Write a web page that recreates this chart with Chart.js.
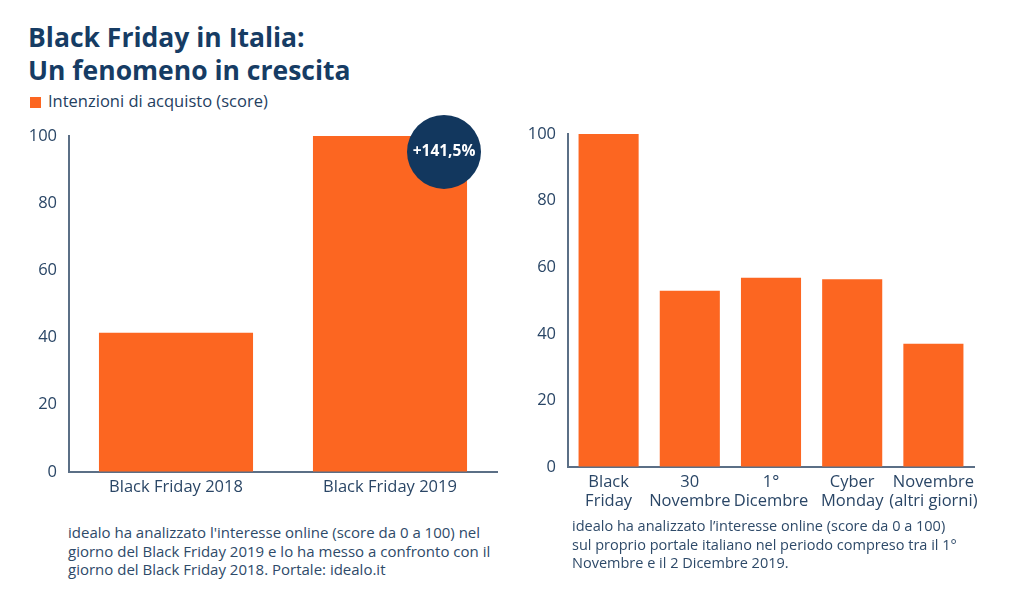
<!DOCTYPE html>
<html>
<head>
<meta charset="utf-8">
<script src="https://cdn.jsdelivr.net/npm/chart.js@4"></script>
<style>
  body { margin: 0; width: 1024px; height: 590px; background: #fff; position: relative; overflow: hidden; font-family: "Open Sans", sans-serif; }
  .title { position: absolute; left: 28px; top: 21px; font-size: 26.5px; line-height: 33px; font-weight: 700; color: #163c64; }
  .legend { position: absolute; left: 30px; top: 90px; font-size: 16.5px; color: #24405f; line-height: 22px; }
  .legend span { display: inline-block; width: 11px; height: 11px; background: #fc6621; margin-right: 7px; vertical-align: -1px; }
  .note { position: absolute; font-size: 15px; line-height: 18.5px; color: #2e4a69; }
  canvas { position: absolute; }
</style>
</head>
<body>
<div class="title">Black Friday in Italia:<br>Un fenomeno in crescita</div>
<div class="legend"><span></span>Intenzioni di acquisto (score)</div>
<canvas id="leftChart" style="left:10px; top:114px;" width="500" height="386"></canvas>
<canvas id="rightChart" style="left:520px; top:110px;" width="480" height="410"></canvas>
<div class="note" style="left:68px; top:523px;">idealo ha analizzato l'interesse online (score da 0 a 100) nel<br>giorno del Black Friday 2019 e lo ha messo a confronto con il<br>giorno del Black Friday 2018. Portale: idealo.it</div>
<div class="note" style="left:572px; top:517px; font-size:14.5px;">idealo ha analizzato l’interesse online (score da 0 a 100)<br>sul proprio portale italiano nel periodo compreso tra il 1°<br>Novembre e il 2 Dicembre 2019.</div>
<script>
const yearLabels = ["Black Friday 2018", "Black Friday 2019"];
const yearScores = [41.4, 100];
const growthLabel = "+141,5%";

const periodLabels = [["Black", "Friday"], ["30", "Novembre"], ["1°", "Dicembre"], ["Cyber", "Monday"], ["Novembre", "(altri giorni)"]];
const periodScores = [100, 52.9, 56.8, 56.4, 37];

const orange = "#fc6621";
const navy = "#12375e";
const textColor = "#2a4666";
const axisColor = "#5b6f86";

Chart.defaults.font.family = "'Open Sans', sans-serif";
Chart.defaults.color = textColor;

function makeScales(yWidth, xHeight) {
  return {
    x: {
      grid: { color: "transparent", drawTicks: false },
      border: { display: true, color: axisColor, width: 2 },
      ticks: { font: { size: 16.5 }, color: textColor, padding: 5, maxRotation: 0, autoSkip: false },
      afterFit: s => { s.height = xHeight; }
    },
    y: {
      min: 0,
      max: 100,
      grid: { color: "transparent", drawTicks: false },
      border: { display: true, color: axisColor, width: 2 },
      ticks: { stepSize: 20, font: { size: 16.5 }, color: textColor, padding: 12 },
      afterFit: s => { s.width = yWidth; }
    }
  };
}

// circle with the growth label on the 2019 bar
const badgePlugin = {
  id: "badge",
  afterDatasetsDraw(chart) {
    const bar = chart.getDatasetMeta(0).data[1];
    const ctx = chart.ctx;
    const cx = bar.x + 54, cy = bar.y + 16;
    ctx.save();
    ctx.beginPath();
    ctx.arc(cx, cy, 37, 0, Math.PI * 2);
    ctx.fillStyle = navy;
    ctx.fill();
    ctx.fillStyle = "#fff";
    ctx.font = "bold 15.5px 'Open Sans', sans-serif";
    ctx.textAlign = "center";
    ctx.textBaseline = "middle";
    ctx.fillText(growthLabel, cx, cy);
    ctx.restore();
  }
};

new Chart(document.getElementById("leftChart"), {
  type: "bar",
  data: {
    labels: yearLabels,
    datasets: [{ data: yearScores, backgroundColor: orange, categoryPercentage: 1, barPercentage: 0.72 }]
  },
  options: {
    responsive: false,
    animation: false,
    layout: { padding: { left: 0, top: 10, right: 13, bottom: 0 } },
    plugins: { legend: { display: false }, tooltip: { enabled: false } },
    scales: makeScales(59, 28)
  },
  plugins: [badgePlugin]
});

new Chart(document.getElementById("rightChart"), {
  type: "bar",
  data: {
    labels: periodLabels,
    datasets: [{ data: periodScores, backgroundColor: orange, categoryPercentage: 1, barPercentage: 0.74 }]
  },
  options: {
    responsive: false,
    animation: false,
    layout: { padding: { left: 0, top: 24, right: 26, bottom: 0 } },
    plugins: { legend: { display: false }, tooltip: { enabled: false } },
    scales: makeScales(48, 53)
  }
});
</script>
</body>
</html>
